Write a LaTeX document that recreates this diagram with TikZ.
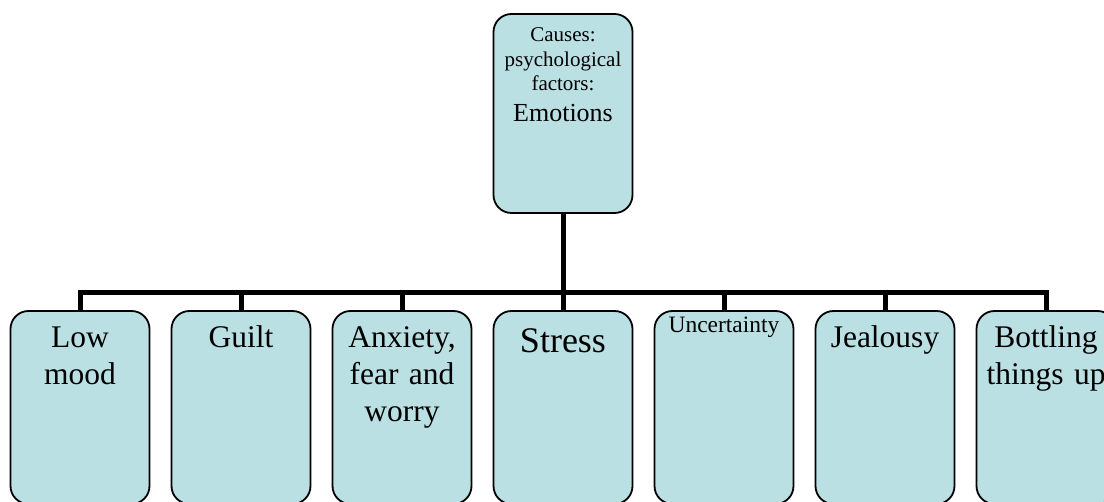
\documentclass[tikz,border=0pt]{standalone}
\usepackage{fontspec}
\setmainfont{Liberation Serif}
\begin{document}
\begin{tikzpicture}[x=1pt,y=-1pt,
  box/.style={draw=black, line width=1.8pt, fill=boxfill, rounded corners=18pt,
    minimum width=139pt, inner sep=0pt},
  kid/.style={box, minimum height=193pt},
  lbl/.style={anchor=base, align=center, text width=136pt, inner sep=0pt},
  big/.style={font=\fontsize{31.5}{37}\selectfont},
  link/.style={line width=5pt}]
\definecolor{boxfill}{RGB}{187,224,227}
\useasboundingbox (0,0) rectangle (1104,502);
\clip (0,0) rectangle (1104,502);

% root box
\node[box, minimum height=199pt] (root) at (563,113.5) {};
\node[lbl, font=\fontsize{21}{24.5}\selectfont] (rootA) at (563,41.7)
  {Causes:\\psychological\\factors:};
\node[lbl, font=\fontsize{26}{31}\selectfont] (rootB) at (563,121.7) {Emotions};

% child boxes
\node[kid] (b1) at (80,407.5) {};
\node[kid] (b2) at (241,407.5) {};
\node[kid] (b3) at (402,407.5) {};
\node[kid] (b4) at (563,407.5) {};
\node[kid] (b5) at (724,407.5) {};
\node[kid] (b6) at (885,407.5) {};
\node[kid] (b7) at (1046,407.5) {};

\node[lbl, big] (t1) at (80,348) {Low\\mood};
\node[lbl, big] (t2) at (241,348) {Guilt};
\node[lbl, big] (t3) at (402,348) {Anxiety,\\fear and\\worry};
\node[lbl, font=\fontsize{36}{42}\selectfont] (t4) at (563,353) {Stress};
\node[lbl, font=\fontsize{23.5}{28}\selectfont] (t5) at (724,333) {Uncertainty};
\node[lbl, big] (t6) at (885,348) {Jealousy};
\node[lbl, big] (t7) at (1046,348) {Bottling\\things up};

% connectors
\coordinate (bus) at (563,292.5);
\draw[link] (root.south) -- (bus);
\draw[link] (b1.north) -- (b1.north |- bus) -- (b7.north |- bus) -- (b7.north);
\foreach \k in {b2,b3,b4,b5,b6}
  \draw[link] (\k.north) -- (\k.north |- bus);
\end{tikzpicture}
\end{document}
